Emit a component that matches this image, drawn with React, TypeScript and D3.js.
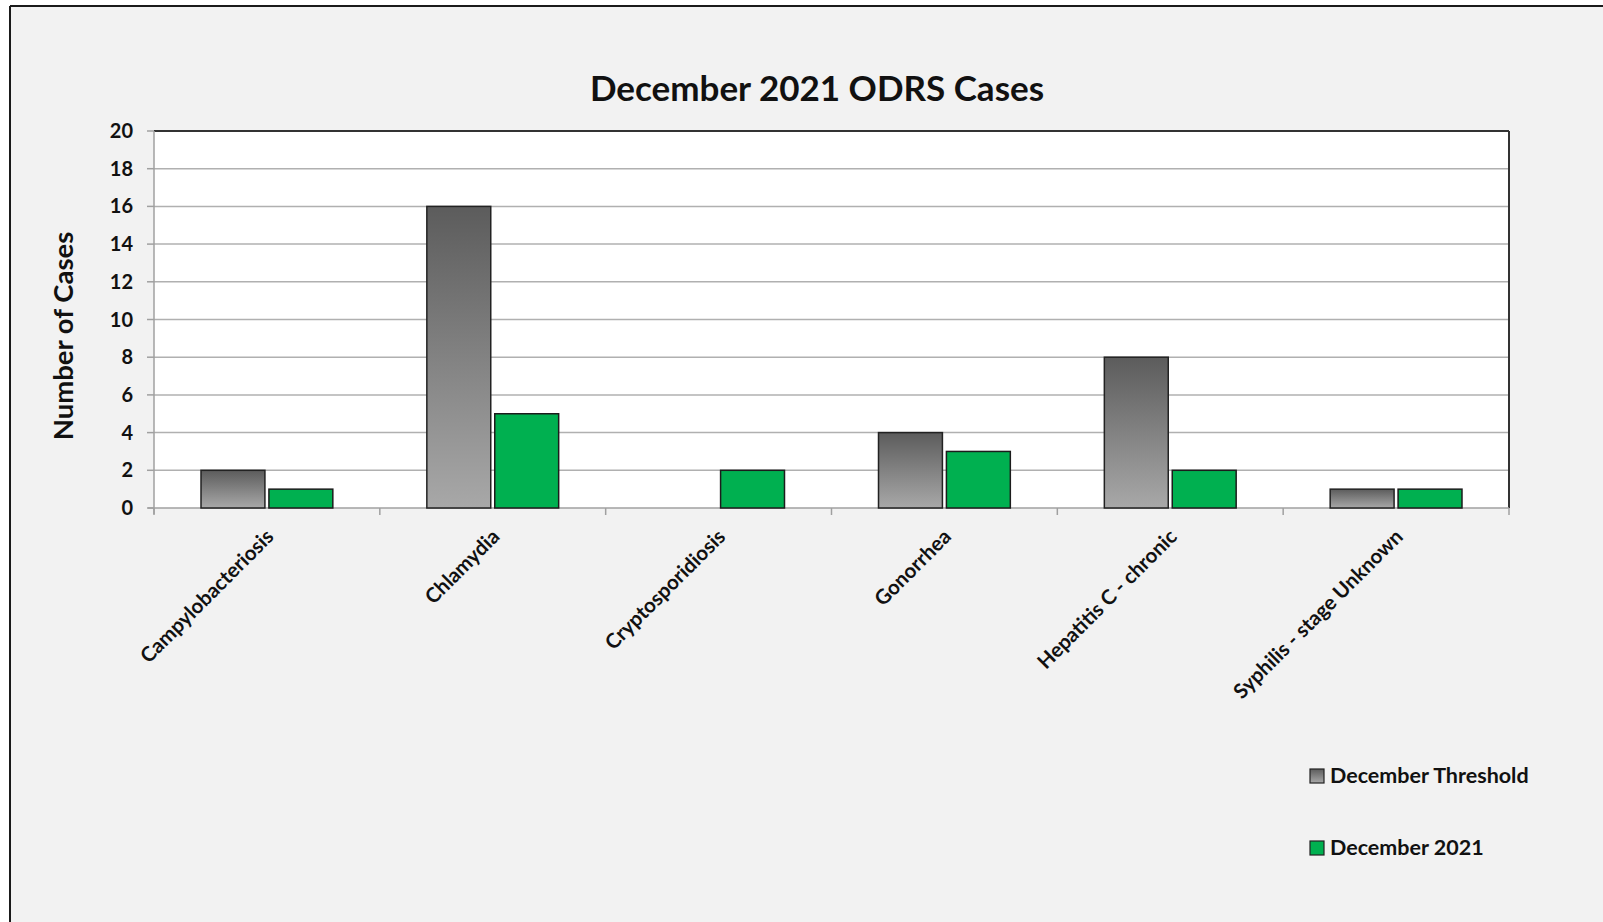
import React, { useEffect, useRef } from 'react';
import * as d3 from 'd3';

const categories = [
  'Campylobacteriosis',
  'Chlamydia',
  'Cryptosporidiosis',
  'Gonorrhea',
  'Hepatitis C - chronic',
  'Syphilis - stage Unknown',
];
const thresholdValues = [2, 16, 0, 4, 8, 1];
const currentValues = [1, 5, 2, 3, 2, 1];
const seriesNames = ['December Threshold', 'December 2021'];
const yTicks = [0, 2, 4, 6, 8, 10, 12, 14, 16, 18, 20];

const W = 1603;
const H = 922;
const FONT = 'Lato, Carlito, Calibri, sans-serif';

export default function App() {
  const svgRef = useRef<SVGSVGElement>(null);

  useEffect(() => {
    if (!svgRef.current) return;
    const svg = d3.select(svgRef.current);
    svg.selectAll('*').remove();

    const left = 154, right = 1509, top = 131, bottom = 508;

    const defs = svg.append('defs');
    const grad = defs.append('linearGradient')
      .attr('id', 'gray-grad')
      .attr('x1', '0%').attr('y1', '0%')
      .attr('x2', '0%').attr('y2', '100%');
    grad.append('stop').attr('offset', '0%').attr('stop-color', '#5c5c5c');
    grad.append('stop').attr('offset', '100%').attr('stop-color', '#a8a8a8');

    // page + chart area
    svg.append('rect').attr('width', W).attr('height', H).attr('fill', '#ffffff');
    svg.append('rect').attr('x', 10).attr('y', 6).attr('width', W - 10).attr('height', H - 6).attr('fill', '#f2f2f2');
    svg.append('line').attr('x1', 10).attr('y1', 6).attr('x2', W).attr('y2', 6)
      .attr('stroke', '#1a1a1a').attr('stroke-width', 2);
    svg.append('line').attr('x1', 10).attr('y1', 6).attr('x2', 10).attr('y2', H)
      .attr('stroke', '#1a1a1a').attr('stroke-width', 2);

    const x0 = d3.scaleBand<string>().domain(categories).range([left, right]).paddingInner(0).paddingOuter(0);
    const y = d3.scaleLinear().domain([0, 20]).range([bottom, top]);

    // plot background
    svg.append('rect')
      .attr('x', left).attr('y', top)
      .attr('width', right - left).attr('height', bottom - top)
      .attr('fill', '#ffffff');

    // gridlines
    svg.append('g').selectAll('line')
      .data(yTicks.filter(t => t > 0 && t < 20))
      .join('line')
      .attr('x1', left).attr('x2', right)
      .attr('y1', d => y(d)).attr('y2', d => y(d))
      .attr('stroke', '#b0b0b0').attr('stroke-width', 1.5);

    // plot border top/right
    svg.append('line').attr('x1', left).attr('x2', right).attr('y1', top).attr('y2', top)
      .attr('stroke', '#333').attr('stroke-width', 2);
    svg.append('line').attr('x1', right).attr('x2', right).attr('y1', top).attr('y2', bottom)
      .attr('stroke', '#333').attr('stroke-width', 2);

    // axes
    svg.append('line').attr('x1', left).attr('x2', left).attr('y1', top).attr('y2', bottom + 6)
      .attr('stroke', '#a0a0a0').attr('stroke-width', 1.5);
    svg.append('line').attr('x1', left - 6).attr('x2', right).attr('y1', bottom).attr('y2', bottom)
      .attr('stroke', '#a0a0a0').attr('stroke-width', 1.5);

    svg.append('g').selectAll('line')
      .data(yTicks)
      .join('line')
      .attr('x1', left - 7).attr('x2', left)
      .attr('y1', d => y(d)).attr('y2', d => y(d))
      .attr('stroke', '#a0a0a0').attr('stroke-width', 1.5);

    const catEdges = categories.map((c) => x0(c) as number).concat([right]);
    svg.append('g').selectAll('line')
      .data(catEdges)
      .join('line')
      .attr('x1', d => d).attr('x2', d => d)
      .attr('y1', bottom).attr('y2', bottom + 7)
      .attr('stroke', '#a0a0a0').attr('stroke-width', 1.5);

    svg.append('g').selectAll('text')
      .data(yTicks)
      .join('text')
      .attr('x', 133)
      .attr('y', d => y(d))
      .attr('dy', '0.35em')
      .attr('text-anchor', 'end')
      .attr('font-family', FONT)
      .attr('font-weight', 'bold')
      .attr('font-size', 20)
      .attr('fill', '#111')
      .text(d => d);

    // bars
    const bw = x0.bandwidth();
    const barW = bw * 0.283;
    const gap = 4;
    const startOff = (bw - (2 * barW + gap)) / 2;

    const gBars = svg.append('g');
    gBars.selectAll('rect.thr')
      .data(categories.map((c, i) => ({ c, v: thresholdValues[i] })))
      .join('rect')
      .attr('class', 'thr')
      .attr('x', d => (x0(d.c) as number) + startOff)
      .attr('y', d => y(d.v))
      .attr('width', barW)
      .attr('height', d => y(0) - y(d.v))
      .attr('fill', 'url(#gray-grad)')
      .attr('stroke', d => d.v > 0 ? '#222' : 'none')
      .attr('stroke-width', 1.5);

    gBars.selectAll('rect.cur')
      .data(categories.map((c, i) => ({ c, v: currentValues[i] })))
      .join('rect')
      .attr('class', 'cur')
      .attr('x', d => (x0(d.c) as number) + startOff + barW + gap)
      .attr('y', d => y(d.v))
      .attr('width', barW)
      .attr('height', d => y(0) - y(d.v))
      .attr('fill', '#00b050')
      .attr('stroke', '#1c1c1c')
      .attr('stroke-width', 1.5);

    // category labels
    svg.append('g').selectAll('text')
      .data(categories)
      .join('text')
      .attr('transform', d => `translate(${(x0(d) as number) + bw / 2 + 8},${bottom + 30}) rotate(-45)`)
      .attr('text-anchor', 'end')
      .attr('font-family', FONT)
      .attr('font-weight', 'bold')
      .attr('font-size', 20.5)
      .attr('fill', '#111')
      .text(d => d);

    // title
    svg.append('text')
      .attr('x', 817).attr('y', 101)
      .attr('text-anchor', 'middle')
      .attr('font-family', FONT)
      .attr('font-weight', 'bold')
      .attr('font-size', 35)
      .attr('fill', '#111')
      .text('December 2021 ODRS Cases');

    // y label
    svg.append('text')
      .attr('transform', `translate(73,336) rotate(-90)`)
      .attr('text-anchor', 'middle')
      .attr('font-family', FONT)
      .attr('font-weight', 'bold')
      .attr('font-size', 27.5)
      .attr('fill', '#111')
      .text('Number of Cases');

    // legend
    const legendY = [769, 841];
    const legendFill = ['url(#gray-grad)', '#00b050'];
    const lg = svg.append('g');
    seriesNames.forEach((name, i) => {
      lg.append('rect')
        .attr('x', 1310).attr('y', legendY[i])
        .attr('width', 14).attr('height', 14)
        .attr('fill', legendFill[i])
        .attr('stroke', '#222').attr('stroke-width', 1.2);
      lg.append('text')
        .attr('x', 1330).attr('y', legendY[i] + 14)
        .attr('font-family', FONT)
        .attr('font-weight', 'bold')
        .attr('font-size', 21.5)
        .attr('fill', '#111')
        .text(name);
    });
  }, []);

  return (
    <svg
      ref={svgRef}
      width={W}
      height={H}
      style={{ position: 'absolute', left: 0, top: 0, display: 'block' }}
    />
  );
}
